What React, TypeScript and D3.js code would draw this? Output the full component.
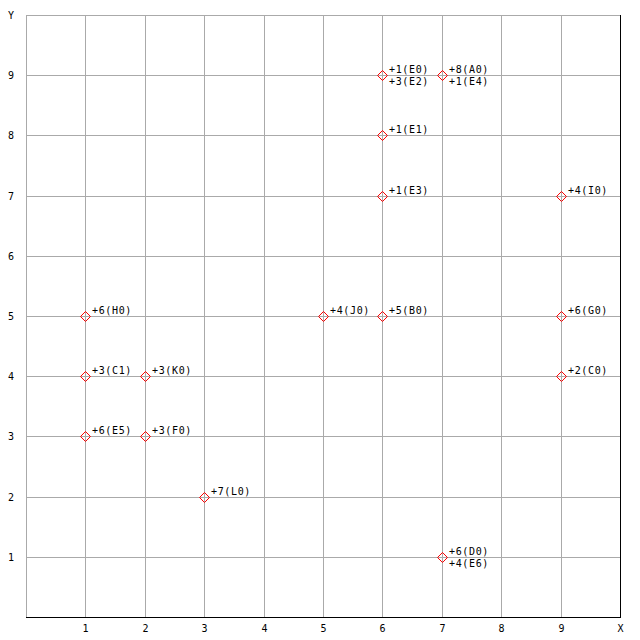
import React from "react";
import * as d3 from "d3";

const xTicks = [1, 2, 3, 4, 5, 6, 7, 8, 9];
const yTicks = [1, 2, 3, 4, 5, 6, 7, 8, 9];
const pointX = [6, 7, 6, 6, 9, 1, 5, 6, 9, 1, 2, 9, 1, 2, 3, 7];
const pointY = [9, 9, 8, 7, 7, 5, 5, 5, 5, 4, 4, 4, 3, 3, 2, 1];
const labelsTop = ["+1(E0)", "+8(A0)", "+1(E1)", "+1(E3)", "+4(I0)", "+6(H0)", "+4(J0)", "+5(B0)", "+6(G0)", "+3(C1)", "+3(K0)", "+2(C0)", "+6(E5)", "+3(F0)", "+7(L0)", "+6(D0)"];
const labelsBottom = ["+3(E2)", "+1(E4)", "", "", "", "", "", "", "", "", "", "", "", "", "", "+4(E6)"];

const W = 640, H = 640;
const left = 26, right = 620, top = 15, bottom = 617;
const FONT = "'DejaVu Sans Mono', monospace";

export default function App() {
  const x = d3.scaleLinear().domain([0, 10]).range([left, right]);
  const y = d3.scaleLinear().domain([0, 10]).range([bottom, top]);
  const grid = "#aaaaaa";
  const diamond = (cx: number, cy: number) => {
    const r = 5;
    return `M${cx},${cy - r}L${cx + r},${cy}L${cx},${cy + r}L${cx - r},${cy}Z`;
  };
  return (
    <svg width={W} height={H} style={{ position: "absolute", left: 0, top: 0, background: "#fff" }}>
      <rect x={0} y={0} width={W} height={H} fill="#fff" />
      {/* border grey */}
      <line x1={left + 0.5} x2={left + 0.5} y1={top} y2={bottom} stroke={grid} />
      <line x1={left} x2={right} y1={top + 0.5} y2={top + 0.5} stroke={grid} />
      {xTicks.map((t) => (
        <line key={"gx" + t} x1={Math.round(x(t)) + 0.5} x2={Math.round(x(t)) + 0.5} y1={top} y2={bottom} stroke={grid} />
      ))}
      {yTicks.map((t) => (
        <line key={"gy" + t} x1={left} x2={right} y1={Math.round(y(t)) + 0.5} y2={Math.round(y(t)) + 0.5} stroke={grid} />
      ))}
      <line x1={left} x2={right + 1} y1={bottom + 0.5} y2={bottom + 0.5} stroke="#000" />
      <line x1={right + 0.5} x2={right + 0.5} y1={top} y2={bottom} stroke="#000" />
      {xTicks.map((t) => (
        <text key={"tx" + t} x={Math.round(x(t)) + 0.5} y={632} textAnchor="middle" fontFamily={FONT} fontSize={10} fill="#000">{t}</text>
      ))}
      <text x={right + 0.5} y={632} textAnchor="middle" fontFamily={FONT} fontSize={10} fill="#000">X</text>
      {yTicks.map((t) => (
        <text key={"ty" + t} x={11} y={Math.round(y(t)) + 4} textAnchor="middle" fontFamily={FONT} fontSize={10} fill="#000">{t}</text>
      ))}
      <text x={11} y={top + 4} textAnchor="middle" fontFamily={FONT} fontSize={10} fill="#000">Y</text>
      {pointX.map((px, i) => {
        const cx = Math.round(x(px)) + 0.5;
        const cy = Math.round(y(pointY[i])) + 0.5;
        return (
          <g key={"p" + i}>
            <path d={diamond(cx, cy)} fill="none" stroke="#ff0000" strokeWidth={1} />
            <text x={cx + 6.5} y={cy - 2.5} fontFamily={FONT} fontSize={10} letterSpacing={0.65} fill="#000">{labelsTop[i]}</text>
            {labelsBottom[i] ? (
              <text x={cx + 6.5} y={cy + 9} fontFamily={FONT} fontSize={10} letterSpacing={0.65} fill="#000">{labelsBottom[i]}</text>
            ) : null}
          </g>
        );
      })}
    </svg>
  );
}
